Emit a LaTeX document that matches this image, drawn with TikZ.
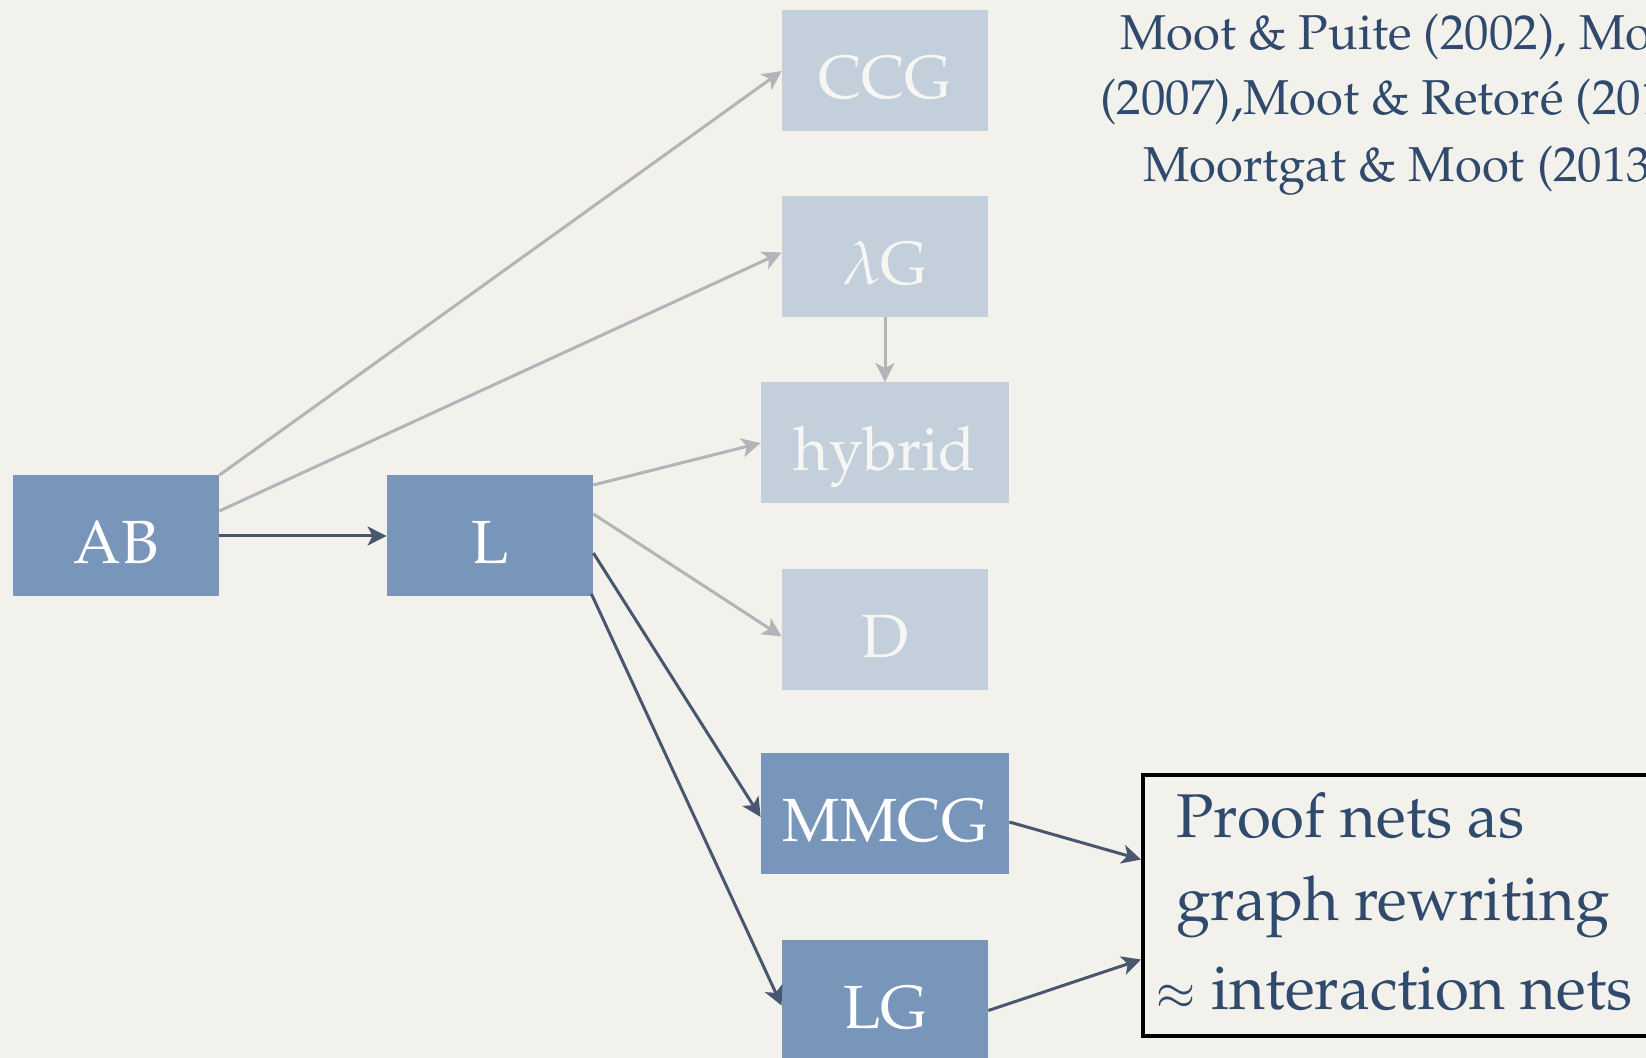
\documentclass[tikz,border=0pt]{standalone}
\usepackage[T1]{fontenc}
\usepackage{mathpazo}
\usepackage{graphicx}
\usetikzlibrary{calc,arrows.meta}

\definecolor{paper}{HTML}{F3F1EC}
\definecolor{boxdark}{HTML}{7896BA}
\definecolor{boxlight}{HTML}{C4CFDC}
\definecolor{labellight}{HTML}{F6F6F2}
\definecolor{arrowdark}{HTML}{485670}
\definecolor{arrowlight}{HTML}{B2B4BA}
\definecolor{inktext}{HTML}{2F4A6C}

\tikzset{
  calcbox/.style={rectangle, inner sep=0pt, minimum height=60.5pt,
    text height=28pt, text depth=0pt,
    font=\fontsize{30.5}{36}\selectfont},
  darkbox/.style={calcbox, fill=boxdark, text=white},
  lightbox/.style={calcbox, fill=boxlight, text=labellight},
  narrow/.style={minimum width=103pt},
  wide/.style={minimum width=124pt},
  strong/.style={draw=arrowdark, line width=1.5pt,
    -{Stealth[length=9.5pt,width=9.5pt,inset=2.5pt]}},
  faint/.style={draw=arrowlight, line width=1.5pt,
    -{Stealth[length=9.5pt,width=9.5pt,inset=2.5pt]}},
  reftext/.style={anchor=base west, inner sep=0pt, text=inktext,
    font=\fontsize{24.5}{30}\selectfont},
  nettext/.style={anchor=base west, inner sep=0pt, text=inktext,
    font=\fontsize{30.9}{38}\selectfont},
}

\begin{document}
\begin{tikzpicture}[x=0.5pt,y=-0.5pt]
  % page and background
  \useasboundingbox (0,0) rectangle (1646,1058);
  \fill[paper] (0,0) rectangle (1646,1058);

  % calculi
  \node[darkbox, narrow] (ab) at (116,536) {AB};
  \node[darkbox, narrow] (l)  at (490,536) {L};
  \node[lightbox, narrow] (ccg) at (885,71) {CCG};
  \node[lightbox, narrow] (lg2) at (885,256.5) {$\lambda$G};
  \node[lightbox, wide] (hyb) at (885,443) {hybrid};
  \node[lightbox, narrow] (d) at (885,629.5) {D};
  \node[darkbox, wide] (mmcg) at (885,814) {MMCG};
  \node[darkbox, narrow] (lg) at (885,1000.5) {LG};

  % proof nets box
  \node[draw=black, line width=2pt, rectangle, inner sep=0pt,
        minimum width=268.5pt, minimum height=130.5pt] (pn) at (1411.5,905.5) {};
  \node[nettext] (pn1) at (1176,838) {Proof nets as};
  \node[nettext] (pn2) at (1176,921) {graph rewriting};
  \node[nettext] (pn3) at (1155,1010) {\scalebox{0.78}{$\approx$} interaction nets};

  % references
  \node[reftext] (r1) at (1120,50) {Moot \& Puite (2002), Moot};
  \node[reftext] (r2) at (1100,115) {(2007),Moot \& Retor\'e (2012),};
  \node[reftext] (r3) at (1143,182) {Moortgat \& Moot (2013)};

  % connectors
  \draw[faint] (ab.north east) -- (ccg.west);
  \draw[faint] ($(ab.east)+(0,-25)$) -- ($(lg2.west)+(0,-4)$);
  \draw[strong] (ab.east) -- (l.west);
  \draw[faint] (lg2.south) -- (hyb.north);
  \draw[faint] ($(l.east)+(0,-51)$) -- (hyb.west);
  \draw[faint] ($(l.east)+(0,-22)$) -- ($(d.west)+(0,7)$);
  \draw[strong] ($(l.east)+(0,17)$) -- ($(mmcg.west)+(0,3)$);
  \draw[strong] ($(l.south east)+(-2,-3)$) -- ($(lg.west)+(0,5)$);
  \draw[strong] ($(mmcg.east)+(0,8)$) -- ($(pn.west)+(0,-46)$);
  \draw[strong] ($(lg.east)+(0,10)$) -- ($(pn.west)+(0,54)$);
\end{tikzpicture}
\end{document}
